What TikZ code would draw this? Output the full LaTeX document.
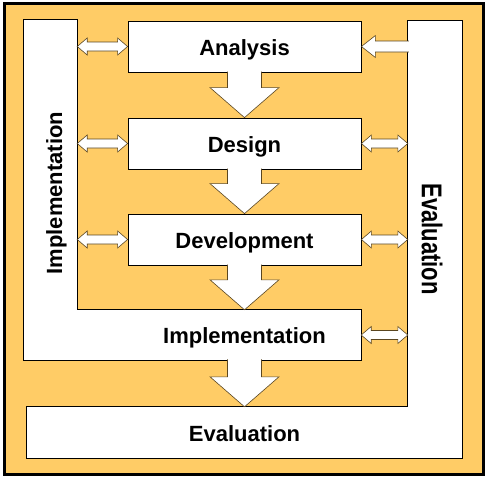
\documentclass[tikz,border=0pt]{standalone}
\usepackage{fontspec}
\setmainfont{Liberation Sans}
\usepackage{xcolor}
\definecolor{cBack}{HTML}{FFCC66}
\definecolor{cEdge}{HTML}{5A4620}
\usetikzlibrary{calc,backgrounds}
\tikzset{
  stage-text/.style={inner sep=0pt,text height=17pt,text depth=0pt,
    font=\bfseries\fontsize{22}{26}\selectfont},
  stage-box/.style={stage-text,draw=black,fill=white,line width=0.8pt,
    minimum width=233,minimum height=51},
  stage-area/.style={stage-text,minimum width=233,minimum height=51},
  bar-area/.style={inner sep=0pt},
  l-panel/.style={draw=black,fill=white,line width=0.8pt},
  flow/.style={draw=cEdge,fill=white,line width=0.6pt,line join=miter},
  link/.style={draw=cEdge,fill=white,line width=0.6pt,line join=miter},
}
% block arrow down from #1 to #2
\newcommand{\flowdown}[2]{%
  \draw[flow] ($(#1.south)+(-17,-0.8)$) -- ($(#2.north)+(-17,-30)$)
    -- ($(#2.north)+(-34.5,-30)$) -- (#2.north) -- ($(#2.north)+(34.5,-30)$)
    -- ($(#2.north)+(17,-30)$) -- ($(#1.south)+(17,-0.8)$);}
% double block arrow between two points
\newcommand{\twoway}[2]{%
  \draw[link] #1 -- ++(10,-8.5) -- ++(0,4) -- ($#2+(-10,-4.5)$) -- ++(0,-4)
    -- #2 -- ++(-10,8.5) -- ++(0,-4) -- ($#1+(10,4.5)$) -- ++(0,4) -- cycle;}
% single block arrow, tail #1, tip #2
\newcommand{\oneway}[2]{%
  \draw[link] ($#1+(1,-5.5)$) -- ($#2+(14,-5.5)$) -- ++(0,-5.5) -- #2
    -- ++(14,11) -- ++(0,-5.5) -- ($#1+(1,5.5)$);}

\begin{document}
\begin{tikzpicture}[x=1pt,y=-1pt]
  \useasboundingbox (0,0) rectangle (489,482);
  \node[stage-box] (ana) at (244.5,46.5) {Analysis};
  \node[stage-box] (des) at (244.5,143.5) {Design};
  \node[stage-box] (dev) at (244.5,239.5) {Development};
  \node[stage-area,minimum height=50] (implH) at (244.5,335) {Implementation};
  \node[stage-area,minimum width=435] (evalH) at (244.5,432.5) {Evaluation};
  \node[bar-area,minimum width=53,minimum height=340] (implV) at (50.5,190) {};
  \node[bar-area,minimum width=54,minimum height=437] (evalV) at (435,239.5) {};
  \node[stage-text,rotate=90] (implT) at (53.5,193) {Implementation};
  \node[stage-text,rotate=-90,yscale=1.3] (evalT) at (433,239) {Evaluation};
  \begin{scope}[on background layer]
    \draw[line width=3.5pt,fill=cBack] (4.5,3.5) rectangle (483.5,474.5);
    \draw[l-panel] (implV.north west) -- (implV.north east) |- (implH.north east)
      -- (implH.south east) -- (implV.south west) -- cycle;
    \draw[l-panel] (evalV.north west) -- (evalV.north east) -- (evalH.south east)
      -- (evalH.south west) -- (evalH.north west)
      -- (evalH.north west -| evalV.west) -- cycle;
  \end{scope}
  % main flow
  \flowdown{ana}{des}
  \flowdown{des}{dev}
  \flowdown{dev}{implH}
  \flowdown{implH}{evalH}
  % links to the side bars
  \twoway{(implV.east |- ana.west)}{(ana.west)}
  \twoway{(implV.east |- des.west)}{(des.west)}
  \twoway{(implV.east |- dev.west)}{(dev.west)}
  \oneway{(evalV.west |- ana.east)}{(ana.east)}
  \twoway{(des.east)}{(evalV.west |- des.east)}
  \twoway{(dev.east)}{(evalV.west |- dev.east)}
  \twoway{(implH.east)}{(evalV.west |- implH.east)}
\end{tikzpicture}
\end{document}
